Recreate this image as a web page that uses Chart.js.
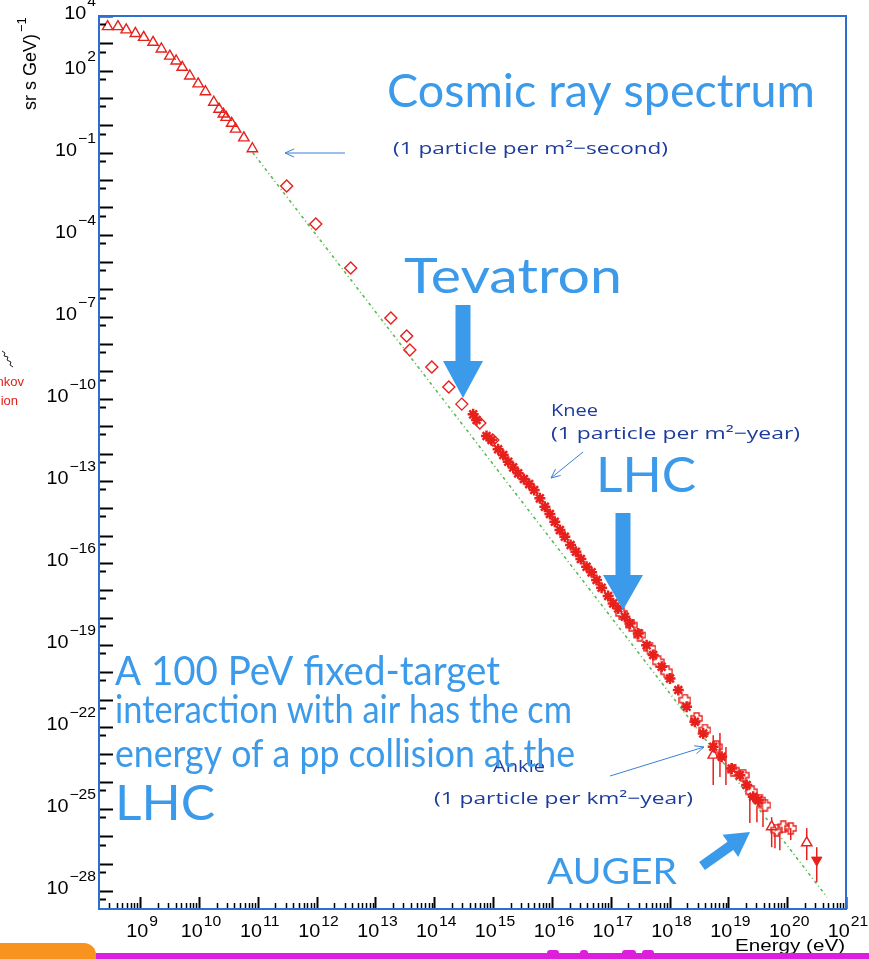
<!DOCTYPE html>
<html>
<head>
<meta charset="utf-8">
<title>Cosmic ray spectrum</title>
<script src="https://cdn.jsdelivr.net/npm/chart.js@4/dist/chart.umd.min.js"></script>
<style>
  html, body { margin: 0; padding: 0; background: #ffffff; }
  canvas { display: block; }
</style>
</head>
<body>
<canvas id="spectrum" width="869" height="959"></canvas>
<script>
// ---- measurements: energy in eV, flux in (m^2 sr s GeV)^-1 ----
const lowEnergyE = [2.8e8, 4.2e8, 5.8e8, 8.3e8, 1.15e9, 1.66e9, 2.3e9, 3.2e9, 4.1e9, 5.2e9, 7.0e9,
  9.7e9, 1.29e10, 1.79e10, 2.2e10, 2.6e10, 2.9e10, 3.6e10, 4.2e10, 5.8e10, 8.1e10];
const lowEnergyFlux = [4.1e3, 4.1e3, 3.1e3, 2.3e3, 1.66e3, 1.09e3, 620, 340, 226, 133, 64,
  33, 17, 7.0, 3.9, 2.6, 1.97, 1.19, 0.73, 0.35, 0.14];

const balloonE = [3.1e11, 9.7e11, 3.8e12, 1.83e13, 3.4e13, 3.85e13, 9.1e13, 1.77e14, 2.94e14, 5.96e14, 9.9e14];
const balloonFlux = [6.05e-3, 2.47e-4, 6.1e-6, 9.0e-8, 1.98e-8, 6.1e-9, 1.45e-9, 2.7e-10, 6.4e-11, 1.3e-11, 3.1e-12];

const airShowerE = [4.59e14, 5.24e14, 7.74e14, 9.4e14, 1.22e15, 1.49e15, 1.81e15, 2.20e15, 2.67e15, 3.34e15,
  4.11e15, 5.0e15, 6.25e15, 7.6e15, 9.25e15, 1.12e16, 1.37e16, 1.66e16, 2.08e16, 2.56e16,
  3.11e16, 3.89e16, 4.73e16, 5.75e16, 7.0e16, 9.06e16, 1.10e17, 1.34e17, 1.74e17, 2.12e17,
  2.94e17, 4.08e17, 5.28e17, 7.35e17, 1.02e18, 1.41e18, 1.95e18, 2.70e18, 3.74e18, 5.53e18,
  7.69e18, 1.14e19, 1.57e19, 2.05e19, 2.65e19, 3.22e19];
const airShowerFlux = [2.70e-11, 1.67e-11, 4.35e-12, 3.10e-12, 1.42e-12, 8.8e-13, 4.99e-13, 3.11e-13, 1.88e-13, 1.16e-13,
  7.6e-14, 4.6e-14, 2.29e-14, 1.13e-14, 6.1e-15, 3.18e-15, 1.58e-15, 9.0e-16, 4.48e-16, 2.55e-16,
  1.38e-16, 7.2e-17, 4.50e-17, 2.35e-17, 1.23e-17, 6.1e-18, 3.30e-18, 2.17e-18, 1.07e-18, 6.1e-19,
  2.64e-19, 9.8e-20, 4.25e-20, 1.58e-20, 5.97e-21, 2.23e-21, 5.5e-22, 1.54e-22, 5.8e-23, 1.88e-23,
  8.1e-24, 3.05e-24, 1.73e-24, 7.5e-25, 2.79e-25, 2.11e-25];

const arrayE = [1.53e17, 2.26e17, 3.14e17, 4.65e17, 6.43e17, 8.93e17, 1.83e18, 2.89e18, 4.0e18, 6.32e18,
  1.21e19, 1.79e19, 2.49e19, 3.44e19, 4.19e19, 6.62e19, 8.59e19, 1.15e20];
const arrayFlux = [1.42e-18, 5.3e-19, 2.29e-19, 7.5e-20, 2.42e-20, 1.04e-20, 9.6e-22, 2.06e-22, 7.7e-23, 1.88e-23,
  2.64e-24, 1.73e-24, 4.25e-25, 2.11e-25, 1.38e-25, 1.69e-26, 2.23e-26, 1.95e-26];

const highEnergyE = [5.53e18, 5.45e19, 2.15e20];
const highEnergyFlux = [9.3e-24, 2.23e-26, 5.8e-27];

const limitE = [3.18e20];
const limitFlux = [1.35e-27];

// vertical error bars
const errE    = [5.53e18, 7.2e18, 9.1e18, 2.32e19, 3.06e19, 3.88e19, 5.45e19, 6.2e19, 7.5e19, 1.15e20, 2.15e20, 3.18e20];
const errHigh = [5.0e-23, 6.0e-23, 1.83e-23, 2.8e-25, 1.27e-25, 9.1e-26, 5.0e-26, 1.31e-26, 1.31e-26, 2.0e-26, 2.0e-26, 4.0e-27];
const errLow  = [7.5e-25, 1.47e-24, 7.5e-25, 3.1e-26, 3.3e-26, 2.2e-26, 4.0e-27, 3.7e-27, 3.1e-27, 7.3e-27, 1.35e-27, 2.1e-28];

// power-law guide line
const guideE = [8.2e10, 4.75e20];
const guideFlux = [0.1016, 5.97e-29];

// axis ranges and labelled decades
const xRange = [2e8, 1e21];
const yRange = [2.2e-29, 1e4];
const xLabelExps = [9, 10, 11, 12, 13, 14, 15, 16, 17, 18, 19, 20, 21];
const yLabelExps = [4, 2, -1, -4, -7, -10, -13, -16, -19, -22, -25, -28];

// ---- styling ----
const RED = '#e8201c';
const FRAME = '#2c6fd3';
const NOTE = '#3b9aea';
const NAVY = '#1e3c9c';
const GUIDE = '#5ab955';
const LABEL_FONT = '"Liberation Sans", Arial, sans-serif';

const pts = (xs, ys) => xs.map((v, i) => ({ x: v, y: ys[i] }));

function openCross(size, color) {
  const c = document.createElement('canvas');
  c.width = c.height = size;
  const g = c.getContext('2d');
  const m = size / 2, w = size * 0.19, e = size / 2 - 1;
  g.strokeStyle = color;
  g.lineWidth = 1.4;
  g.beginPath();
  g.moveTo(m - w, m - e); g.lineTo(m + w, m - e); g.lineTo(m + w, m - w); g.lineTo(m + e, m - w);
  g.lineTo(m + e, m + w); g.lineTo(m + w, m + w); g.lineTo(m + w, m + e); g.lineTo(m - w, m + e);
  g.lineTo(m - w, m + w); g.lineTo(m - e, m + w); g.lineTo(m - e, m - w); g.lineTo(m - w, m - w);
  g.closePath();
  g.stroke();
  return c;
}

function fitText(ctx, text, x, y, width, font, color) {
  ctx.save();
  ctx.font = font;
  ctx.fillStyle = color;
  ctx.textAlign = 'left';
  ctx.textBaseline = 'alphabetic';
  const w = ctx.measureText(text).width;
  ctx.translate(x, y);
  ctx.scale(width / w, 1);
  ctx.fillText(text, 0, 0);
  ctx.restore();
}

function blockArrow(ctx, x1, y1, x2, y2, shaftW, headL, headW, color) {
  const ang = Math.atan2(y2 - y1, x2 - x1), len = Math.hypot(x2 - x1, y2 - y1);
  ctx.save();
  ctx.translate(x1, y1);
  ctx.rotate(ang);
  ctx.fillStyle = color;
  ctx.beginPath();
  ctx.moveTo(0, -shaftW / 2);
  ctx.lineTo(len - headL, -shaftW / 2);
  ctx.lineTo(len - headL, -headW / 2);
  ctx.lineTo(len, 0);
  ctx.lineTo(len - headL, headW / 2);
  ctx.lineTo(len - headL, shaftW / 2);
  ctx.lineTo(0, shaftW / 2);
  ctx.closePath();
  ctx.fill();
  ctx.restore();
}

function lineArrow(ctx, x1, y1, x2, y2, color) {
  const ang = Math.atan2(y2 - y1, x2 - x1), h = 10, s = 0.42;
  ctx.save();
  ctx.strokeStyle = color;
  ctx.lineWidth = 1;
  ctx.beginPath();
  ctx.moveTo(x1, y1); ctx.lineTo(x2, y2);
  ctx.moveTo(x2 - h * Math.cos(ang - s), y2 - h * Math.sin(ang - s));
  ctx.lineTo(x2, y2);
  ctx.lineTo(x2 - h * Math.cos(ang + s), y2 - h * Math.sin(ang + s));
  ctx.stroke();
  ctx.restore();
}

// "10" with a raised exponent; base and exponent are fitted to fixed widths
function powerLabel(ctx, exp, x, y, align, supDy) {
  const sup = exp < 0 ? '\u2212' + Math.abs(exp) : String(exp);
  const wb = 22;
  ctx.save();
  ctx.font = '14px ' + LABEL_FONT;
  const ws = ctx.measureText(sup).width * 1.12;
  ctx.restore();
  const total = wb + 1 + ws;
  const left = align === 'right' ? x - total : x - total / 2;
  ctx.save();
  ctx.textBaseline = 'middle';
  fitTextMiddle(ctx, '10', left, y, wb, '18px ' + LABEL_FONT);
  fitTextMiddle(ctx, sup, left + wb + 1, y + supDy, ws, '14px ' + LABEL_FONT);
  ctx.restore();
}

function fitTextMiddle(ctx, text, x, y, width, font) {
  ctx.save();
  ctx.font = font;
  ctx.fillStyle = '#000';
  ctx.textAlign = 'left';
  ctx.textBaseline = 'middle';
  const w = ctx.measureText(text).width;
  ctx.translate(x, y);
  ctx.scale(width / w, 1);
  ctx.fillText(text, 0, 0);
  ctx.restore();
}

const decor = {
  id: 'decor',
  beforeDraw(chart) {
    const ctx = chart.ctx;
    ctx.save();
    ctx.fillStyle = '#ffffff';
    ctx.fillRect(0, 0, chart.width, chart.height);
    ctx.restore();
  },
  beforeDatasetsDraw(chart) {
    const { ctx, scales: { x, y } } = chart;
    ctx.save();
    ctx.strokeStyle = RED;
    ctx.lineWidth = 1.5;
    errE.forEach((e, i) => {
      const px = x.getPixelForValue(e);
      ctx.beginPath();
      ctx.moveTo(px, y.getPixelForValue(errHigh[i]));
      ctx.lineTo(px, y.getPixelForValue(errLow[i]));
      ctx.stroke();
    });
    ctx.restore();
  },
  afterDatasetsDraw(chart) {
    const { ctx, chartArea: a, scales: { x, y } } = chart;

    // tick marks, drawn inward from the left and bottom edges
    ctx.save();
    ctx.strokeStyle = '#000';
    for (let n = -29; n <= 4; n++) {
      [[Math.pow(10, n), 14], [5 * Math.pow(10, n - 1), 7]].forEach(([v, len]) => {
        if (v < yRange[0] || v > yRange[1]) return;
        const py = Math.round(y.getPixelForValue(v)) + 0.5;
        ctx.lineWidth = 2;
        ctx.beginPath();
        ctx.moveTo(a.left, py); ctx.lineTo(a.left + len, py);
        ctx.stroke();
      });
    }
    for (let n = 8; n <= 21; n++) {
      for (let m = 1; m <= 9; m++) {
        const v = m * Math.pow(10, n);
        if (v <= xRange[0] * 1.01 || v > xRange[1] * 1.001) continue;
        const px = Math.round(x.getPixelForValue(v)) + 0.5;
        const len = m === 1 ? 12 : 6;
        ctx.lineWidth = m === 1 ? 2 : 1.5;
        ctx.beginPath();
        ctx.moveTo(px, a.bottom); ctx.lineTo(px, a.bottom - len);
        ctx.stroke();
      }
    }
    ctx.restore();

    // frame
    ctx.save();
    ctx.strokeStyle = FRAME;
    ctx.lineWidth = 2;
    ctx.strokeRect(a.left, a.top, a.right - a.left, a.bottom - a.top);
    ctx.restore();

    // tick labels
    yLabelExps.forEach(e => powerLabel(ctx, e, 96, y.getPixelForValue(Math.pow(10, e)) - 2, 'right', -12));
    xLabelExps.forEach(e => powerLabel(ctx, e, x.getPixelForValue(Math.pow(10, e)) + 2, a.bottom + 23, 'center', -10));

    // axis titles
    fitText(ctx, 'Energy (eV)', 735, 951, 110, '16px ' + LABEL_FONT, '#000');
    ctx.save();
    ctx.translate(36, 110);
    ctx.rotate(-Math.PI / 2);
    ctx.fillStyle = '#000';
    ctx.font = '18px ' + LABEL_FONT;
    ctx.textBaseline = 'alphabetic';
    ctx.fillText('sr s GeV)', 0, 0);
    const tw = ctx.measureText('sr s GeV)').width;
    ctx.font = '13px ' + LABEL_FONT;
    ctx.fillText('\u22121', tw + 2, -10);
    ctx.restore();

    // neighbouring page fragments at the left edge
    ctx.save();
    ctx.fillStyle = '#e0201a';
    ctx.font = '13px ' + LABEL_FONT;
    ctx.textAlign = 'right';
    ctx.fillText('nkov', 24, 386);
    ctx.fillText('ion', 18, 405);
    ctx.strokeStyle = '#222';
    ctx.lineWidth = 1;
    ctx.beginPath();
    ctx.moveTo(2, 351); ctx.lineTo(5, 353); ctx.lineTo(4, 356); ctx.lineTo(8, 357);
    ctx.lineTo(7, 360); ctx.lineTo(11, 362); ctx.lineTo(10, 365); ctx.lineTo(13, 367);
    ctx.stroke();
    ctx.restore();

    // bottom strip
    ctx.save();
    ctx.fillStyle = '#f7931e';
    ctx.beginPath();
    ctx.roundRect(-12, 943, 108, 30, 12);
    ctx.fill();
    ctx.fillStyle = '#dd1fdc';
    ctx.fillRect(96, 953, 773, 6);
    [[547, 12], [580, 8], [622, 14], [642, 12]].forEach(([bx, bw]) => {
      ctx.beginPath();
      ctx.roundRect(bx, 950, bw, 6, 3);
      ctx.fill();
    });
    ctx.restore();

    // small annotations
    const small = '17px "Open Sans", "Noto Sans", sans-serif';
    fitText(ctx, '(1 particle per m\u00b2\u2212second)', 393, 154, 275, small, NAVY);
    fitText(ctx, 'Knee', 551, 416, 47, small, NAVY);
    fitText(ctx, '(1 particle per m\u00b2\u2212year)', 551, 439, 249, small, NAVY);
    fitText(ctx, 'Ankle', 493, 772, 52, small, NAVY);
    fitText(ctx, '(1 particle per km\u00b2\u2212year)', 434, 804, 259, small, NAVY);
    lineArrow(ctx, 345, 153, 285, 153, '#3a7fd8');
    lineArrow(ctx, 583, 452, 551, 478, '#3a7fd8');
    lineArrow(ctx, 610, 776, 704, 747, '#3a7fd8');

    // large annotations
    const big = s => s + 'px Lato, "Open Sans", sans-serif';
    fitText(ctx, 'Cosmic ray spectrum', 387, 107, 428, big(46), NOTE);
    fitText(ctx, 'Tevatron', 404, 293, 218, big(48), NOTE);
    fitText(ctx, 'LHC', 596, 492, 100, big(48), NOTE);
    fitText(ctx, 'A 100 PeV fixed-target', 115, 685, 385, big(40), NOTE);
    fitText(ctx, 'interaction with air has the cm', 115, 723, 457, big(38), NOTE);
    fitText(ctx, 'energy of a pp collision at the', 115, 767, 460, big(38), NOTE);
    fitText(ctx, 'LHC', 115, 820, 100, big(48), NOTE);
    fitText(ctx, 'AUGER', 547, 884, 130, big(36), NOTE);
    blockArrow(ctx, 463, 305, 463, 398, 15, 37, 40, NOTE);
    blockArrow(ctx, 623, 513, 623, 610, 15, 35, 40, NOTE);
    blockArrow(ctx, 702, 866, 750, 832, 10, 24, 27, NOTE);
  }
};

new Chart(document.getElementById('spectrum'), {
  type: 'scatter',
  data: {
    datasets: [
      {
        label: 'low energy',
        data: pts(lowEnergyE, lowEnergyFlux),
        pointStyle: 'triangle', pointRadius: 6, borderWidth: 1.4,
        borderColor: RED, backgroundColor: 'rgba(0,0,0,0)'
      },
      {
        label: 'direct',
        data: pts(balloonE, balloonFlux),
        pointStyle: 'rectRot', pointRadius: 6, borderWidth: 1.4,
        borderColor: RED, backgroundColor: 'rgba(0,0,0,0)'
      },
      {
        label: 'air showers',
        data: pts(airShowerE, airShowerFlux),
        pointStyle: 'star', pointRadius: 5.5, borderWidth: 2.5,
        borderColor: RED, backgroundColor: RED
      },
      {
        label: 'ground arrays',
        data: pts(arrayE, arrayFlux),
        pointStyle: openCross(13, RED), pointRadius: 6,
        borderColor: RED, backgroundColor: RED
      },
      {
        label: 'highest energies',
        data: pts(highEnergyE, highEnergyFlux),
        pointStyle: 'triangle', pointRadius: 6, borderWidth: 1.4,
        borderColor: RED, backgroundColor: '#ffffff'
      },
      {
        label: 'upper limit',
        data: pts(limitE, limitFlux),
        pointStyle: 'triangle', rotation: 180, pointRadius: 6, borderWidth: 1,
        borderColor: RED, backgroundColor: RED
      },
      {
        label: 'power law',
        data: pts(guideE, guideFlux),
        showLine: true, pointRadius: 0, borderWidth: 1.6,
        borderColor: GUIDE, borderDash: [3, 3, 1, 3], order: 10
      }
    ]
  },
  options: {
    responsive: false,
    animation: false,
    devicePixelRatio: 1,
    layout: { padding: { left: 99, top: 16, right: 23, bottom: 50 } },
    plugins: { legend: { display: false }, tooltip: { enabled: false } },
    scales: {
      x: { type: 'logarithmic', min: xRange[0], max: xRange[1], display: false },
      y: { type: 'logarithmic', min: yRange[0], max: yRange[1], display: false }
    }
  },
  plugins: [decor]
});
</script>
</body>
</html>
